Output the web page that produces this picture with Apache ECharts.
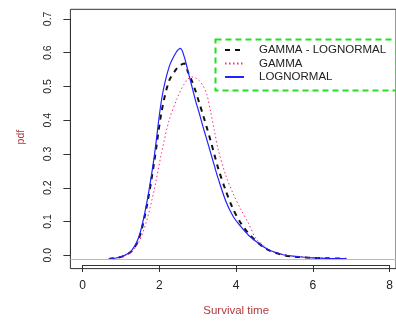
<!DOCTYPE html>
<html><head><meta charset="utf-8">
<script src="https://cdn.jsdelivr.net/npm/echarts@6/dist/echarts.min.js"></script>
<style>html,body{margin:0;padding:0;background:#fff}#c{width:396px;height:322px}</style>
</head><body><div id="c"></div>
<script>
// survival time grid
const xs = [0.7,0.9,1.1,1.3,1.5,1.7,1.9,2.1,2.3,2.5,2.6,2.7,2.8,2.9,3.0,3.1,3.2,3.3,3.4,3.5,3.6,3.8,4.0,4.2,4.4,4.6,4.8,5.0,5.3,5.6,6.0,6.5,7.0];
const gammaLognormal = [0,0.003,0.009,0.022,0.06,0.15,0.28,0.43,0.52,0.555,0.565,0.570,0.545,0.52,0.49,0.455,0.42,0.383,0.345,0.305,0.265,0.20,0.145,0.105,0.075,0.053,0.035,0.023,0.012,0.007,0.004,0.002,0.001];
const gamma = [0.001,0.003,0.008,0.02,0.05,0.11,0.20,0.31,0.405,0.465,0.49,0.51,0.525,0.531,0.528,0.52,0.505,0.48,0.43,0.375,0.32,0.245,0.19,0.145,0.105,0.06,0.04,0.024,0.014,0.009,0.005,0.002,0.001];
const lognormal = [0,0.003,0.010,0.024,0.065,0.16,0.295,0.465,0.56,0.605,0.614,0.59,0.548,0.505,0.462,0.425,0.385,0.348,0.31,0.272,0.235,0.17,0.124,0.095,0.07,0.052,0.036,0.024,0.013,0.008,0.004,0.002,0.001];
const seriesNames = ['GAMMA - LOGNORMAL','GAMMA','LOGNORMAL'];
const xTicks = {min:0, max:8, step:2};
const yTicks = {min:0, max:0.7, step:0.1};
const xTitle = 'Survival time';
const yTitle = 'pdf';

const pairs = ys => xs.map((x,i)=>[x, ys[i]]);
const font = "'Liberation Sans', Arial, sans-serif";
const titleColor = '#b03a3a';

const chart = echarts.init(document.getElementById('c'), null, {renderer:'canvas'});
chart.setOption({
  animation:false,
  backgroundColor:'#fff',
  grid:[
    {left:70.4, top:9.3, width:331.8, height:259.3, show:true, borderColor:'#333', borderWidth:1, backgroundColor:'transparent'},
    {left:82.7, top:18.9, width:307.2, height:240.1}
  ],
  xAxis:[
    {gridIndex:0, type:'value', min:-0.32, max:8.32, show:false, splitLine:{show:false}},
    {gridIndex:1, type:'value', min:xTicks.min, max:xTicks.max, interval:xTicks.step, offset:9.7,
     axisLine:{show:true, onZero:false, lineStyle:{color:'#333', width:1}},
     axisTick:{show:true, inside:false, length:7, lineStyle:{color:'#333'}},
     splitLine:{show:false},
     axisLabel:{color:'#222', fontFamily:font, fontSize:12, margin:15},
     name:xTitle, nameLocation:'middle', nameGap:40,
     nameTextStyle:{color:titleColor, fontFamily:font, fontSize:11.5}}
  ],
  yAxis:[
    {gridIndex:0, type:'value', min:-0.028, max:0.728, show:false, splitLine:{show:false}},
    {gridIndex:1, type:'value', min:yTicks.min, max:yTicks.max, interval:yTicks.step, offset:12.3,
     axisLine:{show:true, onZero:false, lineStyle:{color:'#333', width:1}},
     axisTick:{show:true, inside:false, length:7, lineStyle:{color:'#333'}},
     splitLine:{show:false},
     axisLabel:{color:'#222', fontFamily:font, fontSize:10.5, rotate:90, margin:17, formatter:v=>v.toFixed(1)},
     name:yTitle, nameLocation:'middle', nameGap:44,
     nameTextStyle:{color:titleColor, fontFamily:font, fontSize:10.5}}
  ],
  legend:{
    data:seriesNames, orient:'vertical', left:224, top:43.25, padding:0,
    itemWidth:19, itemHeight:10, itemGap:0,
    itemStyle:{opacity:0},
    textStyle:{color:'#222', fontFamily:font, fontSize:11.5, lineHeight:13.5, padding:[0,0,0,10]}
  },
  graphic:[{type:'rect', left:213, top:37, shape:{width:181, height:51},
    style:{fill:'none', stroke:'#22e022', lineWidth:2, lineDash:[6,4]}, silent:true}],
  series:[
    {name:seriesNames[0], type:'line', xAxisIndex:0, yAxisIndex:0, data:pairs(gammaLognormal), smooth:0.3,
     symbol:'none', lineStyle:{color:'#111', width:2, type:[5,5]}, itemStyle:{color:'#111'},
     markLine:{silent:true, symbol:'none', label:{show:false}, lineStyle:{color:'#bbb', width:1, type:'solid'}, data:[{yAxis:0}]}},
    {name:seriesNames[1], type:'line', xAxisIndex:0, yAxisIndex:0, data:pairs(gamma), smooth:0.3,
     symbol:'none', lineStyle:{color:'#ff2a8a', width:1, type:[1.5,2.5]}, itemStyle:{color:'#ff2a8a'}},
    {name:seriesNames[2], type:'line', xAxisIndex:0, yAxisIndex:0, data:pairs(lognormal), smooth:0.3,
     symbol:'none', lineStyle:{color:'#2222ff', width:1.2}, itemStyle:{color:'#2222ff'}}
  ]
});
</script></body></html>
